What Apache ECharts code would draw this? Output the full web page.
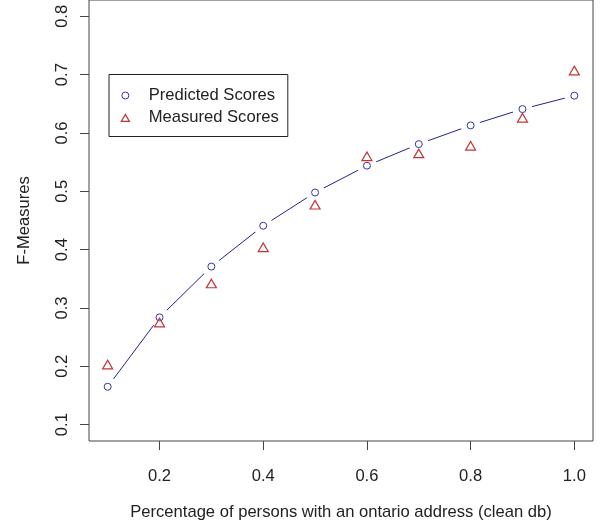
<!DOCTYPE html>
<html>
<head>
<meta charset="utf-8">
<script src="https://cdn.jsdelivr.net/npm/echarts@6/dist/echarts.min.js"></script>
<style>
html,body{margin:0;padding:0;background:#fff;}
#chart{width:601px;height:528px;}
</style>
</head>
<body>
<div id="chart"></div>
<script>
// Data
var xValues = [0.1, 0.2, 0.3, 0.4, 0.5, 0.6, 0.7, 0.8, 0.9, 1.0];
var predictedScores = [0.165, 0.284, 0.371, 0.441, 0.498, 0.544, 0.581, 0.613, 0.641, 0.664];
var measuredScores = [0.203, 0.275, 0.342, 0.404, 0.477, 0.560, 0.565, 0.578, 0.626, 0.707];
var xTicks = [0.2, 0.4, 0.6, 0.8, 1.0];
var yTicks = [0.1, 0.2, 0.3, 0.4, 0.5, 0.6, 0.7, 0.8];
var seriesNames = ['Predicted Scores', 'Measured Scores'];
var xTitle = 'Percentage of persons with an ontario address (clean db)';
var yTitle = 'F-Measures';

function pairs(xs, ys) {
  return xs.map(function (x, i) { return [x, ys[i]]; });
}

var FONT = 'Liberation Sans, Arial, sans-serif';
var TEXT = '#222';
var AXIS = '#444';
var BLUE = '#3434b0';
var LINE = '#22228f';
var RED = '#c43434';
var TRI = 'path://M5,0L10,8.66L0,8.66Z';

var chart = echarts.init(document.getElementById('chart'), null, {renderer: 'canvas'});
chart.setOption({
  animation: false,
  backgroundColor: '#fff',
  grid: {
    left: 89, right: 8, top: 0, bottom: 87,
    show: true, borderColor: AXIS, borderWidth: 1, backgroundColor: 'transparent'
  },
  xAxis: {
    type: 'value', min: 0.064, max: 1.036,
    axisLine: {show: false},
    splitLine: {show: false},
    axisTick: {show: true, length: 9, customValues: xTicks, lineStyle: {color: AXIS, width: 1}},
    axisLabel: {
      customValues: xTicks, margin: 27,
      formatter: function (v) { return v.toFixed(1); },
      color: TEXT, fontSize: 16.6, fontFamily: FONT
    },
    name: xTitle, nameLocation: 'middle', nameGap: 63,
    nameTextStyle: {color: TEXT, fontSize: 16.6, fontFamily: FONT}
  },
  yAxis: {
    type: 'value', min: 0.072, max: 0.828,
    axisLine: {show: false},
    splitLine: {show: false},
    axisTick: {show: true, length: 9, customValues: yTicks, lineStyle: {color: AXIS, width: 1}},
    axisLabel: {
      customValues: yTicks, margin: 18, rotate: 90,
      formatter: function (v) { return v.toFixed(1); },
      color: TEXT, fontSize: 16.6, fontFamily: FONT
    },
    name: yTitle, nameLocation: 'middle', nameGap: 56, nameRotate: 90,
    nameTextStyle: {color: TEXT, fontSize: 16.6, fontFamily: FONT}
  },
  legend: {
    orient: 'vertical', left: 120.7, top: 87,
    itemWidth: 36.6, itemHeight: 7, itemGap: 5.4, padding: 0,
    selectedMode: false, symbolKeepAspect: true,
    textStyle: {color: TEXT, fontSize: 16.6, fontFamily: FONT},
    data: [
      {name: seriesNames[0], icon: 'circle', itemStyle: {color: '#fff', borderColor: BLUE, borderWidth: 1, opacity: 1}},
      {name: seriesNames[1], icon: TRI, itemStyle: {color: 'rgba(255,255,255,0)', borderColor: RED, borderWidth: 1.2, opacity: 1}}
    ]
  },
  graphic: [{
    type: 'rect', left: 108.5, top: 74,
    shape: {width: 178.8, height: 62},
    style: {fill: 'transparent', stroke: '#222', lineWidth: 1},
    silent: true
  }],
  series: [
    {
      name: 'line', type: 'line', data: pairs(xValues, predictedScores),
      symbol: 'circle', symbolSize: 20, showSymbol: true, showAllSymbol: true,
      itemStyle: {color: '#fff', borderWidth: 0, opacity: 1},
      lineStyle: {color: LINE, width: 1, opacity: 1}, z: 2, silent: true
    },
    {
      name: seriesNames[0], type: 'scatter', data: pairs(xValues, predictedScores),
      symbol: 'circle', symbolSize: 7,
      itemStyle: {color: '#fff', borderColor: BLUE, borderWidth: 1, opacity: 1}, z: 4
    },
    {
      name: seriesNames[1], type: 'scatter', data: pairs(xValues, measuredScores),
      symbol: 'triangle', symbolSize: [10, 8.5],
      itemStyle: {color: 'rgba(255,255,255,0)', borderColor: RED, borderWidth: 1.2, opacity: 1}, z: 5
    }
  ]
});
</script>
</body>
</html>
